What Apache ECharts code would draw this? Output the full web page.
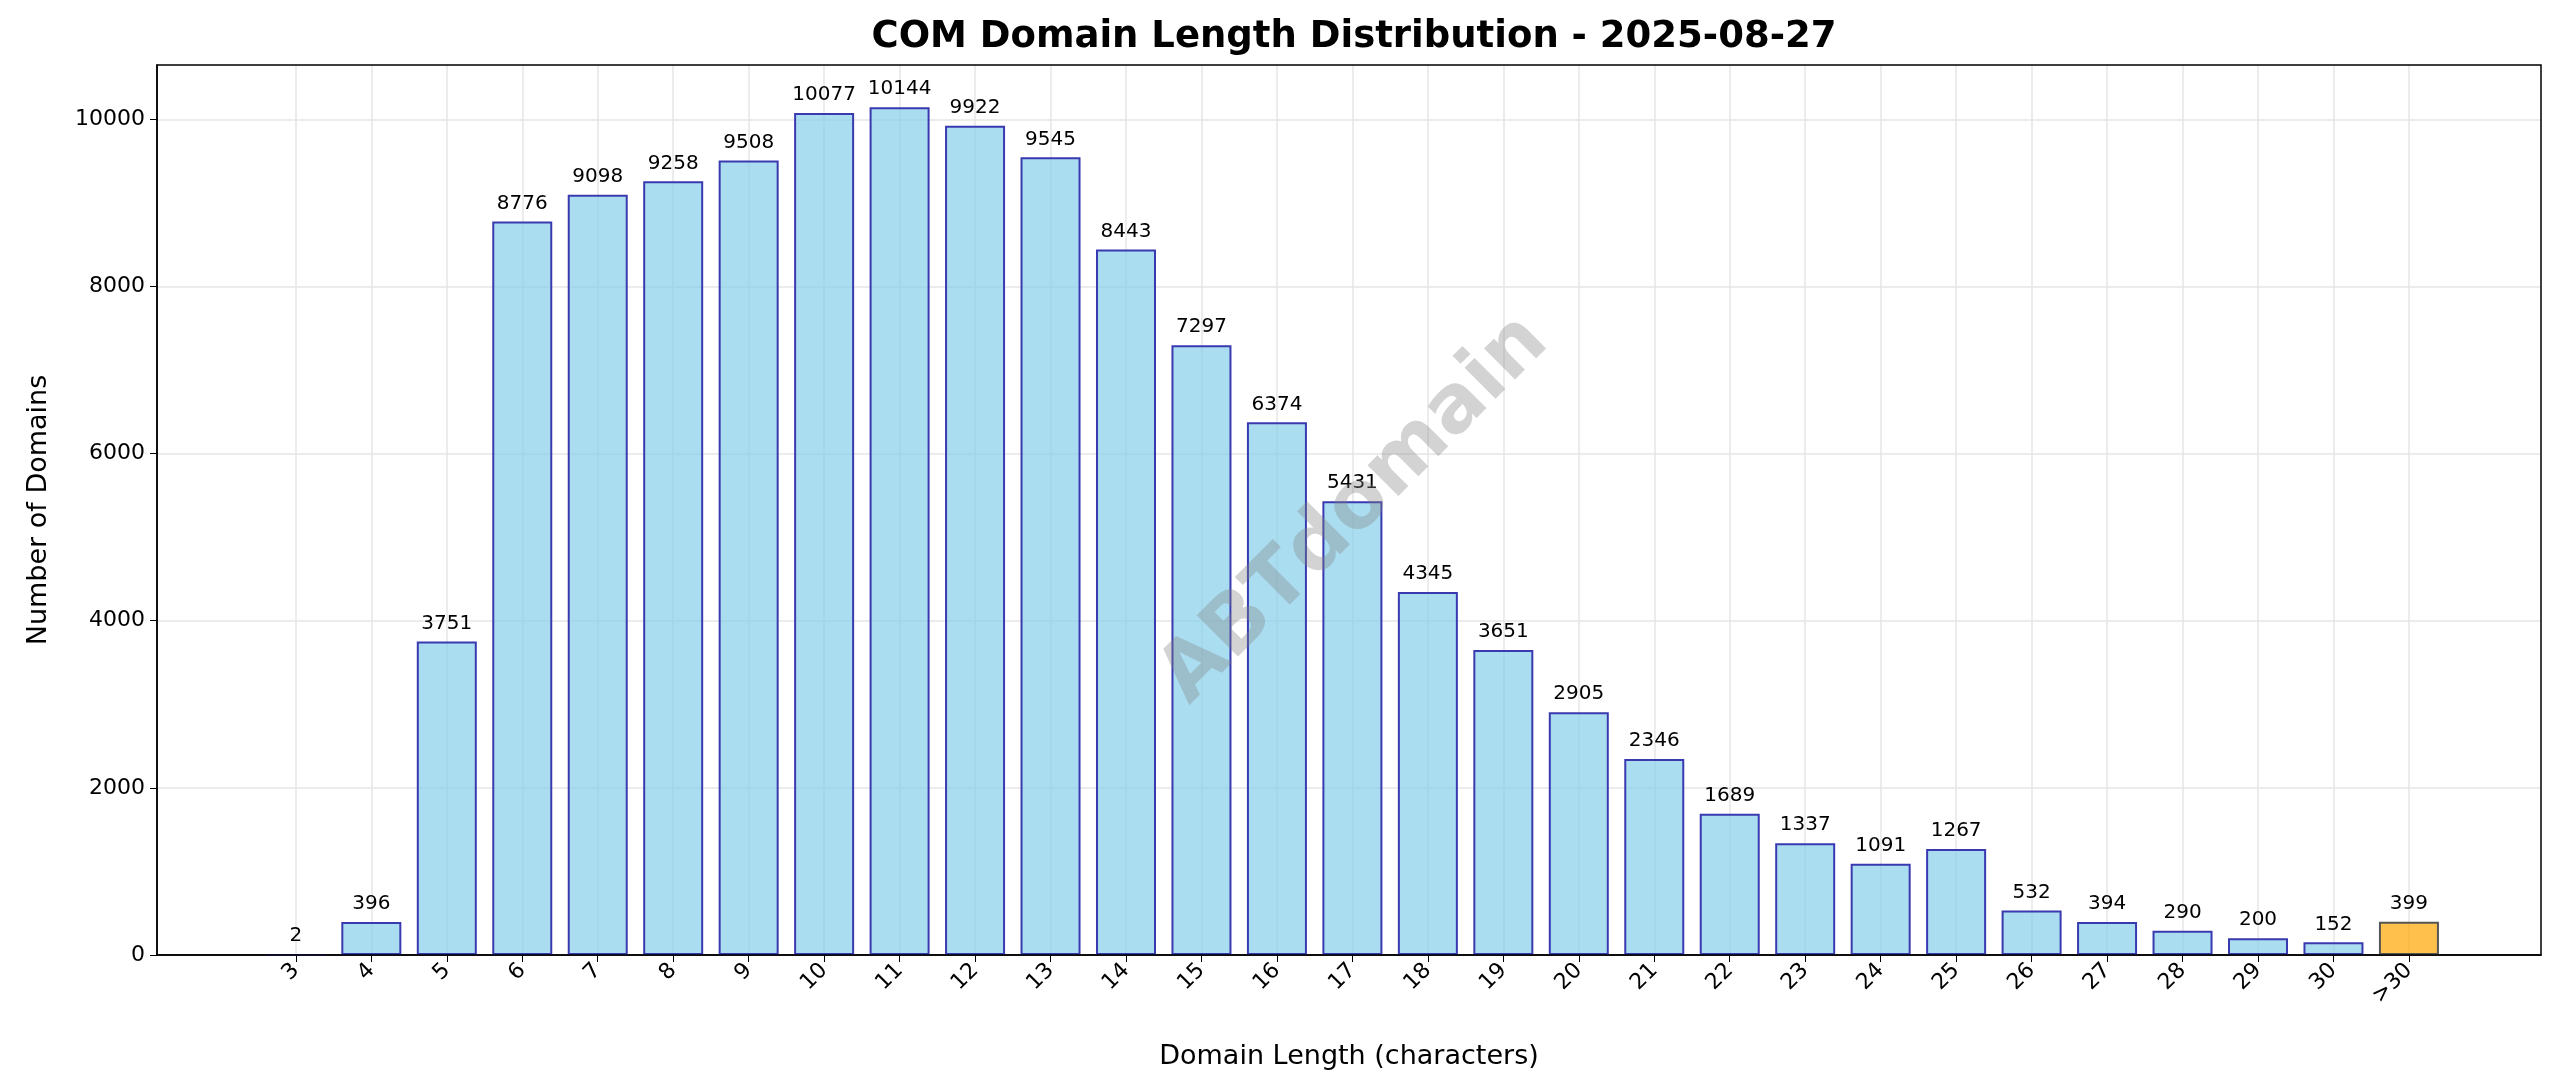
<!DOCTYPE html>
<html>
<head>
<meta charset="utf-8">
<script src="https://cdn.jsdelivr.net/npm/echarts@6/dist/echarts.min.js"></script>
<style>html,body{margin:0;background:#fff}#main{width:2560px;height:1087px}</style>
</head>
<body>
<div id="main"></div>
<script>
const lengths = ['3','4','5','6','7','8','9','10','11','12','13','14','15','16','17','18','19','20','21','22','23','24','25','26','27','28','29','30','>30'];
const counts = [2,396,3751,8776,9098,9258,9508,10077,10144,9922,9545,8443,7297,6374,5431,4345,3651,2905,2346,1689,1337,1091,1267,532,394,290,200,152,399];
const yTicks = [0,2000,4000,6000,8000,10000];

var myChart = echarts.init(document.getElementById('main'));
const idx = lengths.map((_, i) => i);

var option = {
    animation: false,
    textStyle: {fontFamily: 'DejaVu Sans'},
    title: {
        text: 'COM Domain Length Distribution - 2025-08-27',
        left: 1349, top: 14, textAlign: 'center',
        textStyle: {fontSize: 37, fontWeight: 'bold', color: '#000', fontFamily: 'DejaVu Sans'}
    },
    grid: {left: 157, right: 19, top: 65, bottom: 132, containLabel: false},
    xAxis: {
        type: 'value', min: -1.84, max: 29.75,
        name: 'Domain Length (characters)', nameLocation: 'middle', nameGap: 88,
        nameTextStyle: {fontSize: 27, color: '#000'},
        axisLine: {show: true, onZero: false, lineStyle: {color: '#000', width: 1.5}},
        axisTick: {show: true, customValues: idx, length: 7, lineStyle: {color: '#000'}},
        axisLabel: {customValues: idx, rotate: 45, fontSize: 22, color: '#000', margin: 12,
            formatter: v => lengths[Math.round(v)]},
        splitLine: {show: true, customValues: idx, lineStyle: {color: '#e6e6e6', width: 1.5}}
    },
    yAxis: {
        type: 'value', min: 0, max: 10650,
        name: 'Number of Domains', nameLocation: 'middle', nameGap: 105,
        nameTextStyle: {fontSize: 27, color: '#000'},
        axisLine: {show: true, onZero: false, lineStyle: {color: '#000', width: 1.5}},
        axisTick: {show: true, customValues: yTicks, length: 7, lineStyle: {color: '#000'}},
        axisLabel: {customValues: yTicks, fontSize: 22, color: '#000', margin: 12, formatter: v => String(v)},
        splitLine: {show: true, customValues: yTicks, lineStyle: {color: '#e6e6e6', width: 1.5}}
    },
    series: [{
        type: 'bar',
        barWidth: 60,
        data: counts.map((c, i) => ({
            value: [i, c],
            itemStyle: i === counts.length - 1
                ? {color: 'rgba(255,165,0,0.7)', borderColor: '#555', borderWidth: 2}
                : {color: 'rgba(135,206,235,0.7)', borderColor: '#3a3ab0', borderWidth: 2}
        })),
        label: {show: true, position: 'top', distance: 8, fontSize: 20, color: '#000',
            formatter: p => p.value[1]}
    }],
    graphic: [{
        type: 'text', x: 1355, y: 510, rotation: Math.PI / 4,
        style: {text: 'ABTdomain', font: 'bold 80px "DejaVu Sans"', fill: 'rgba(128,128,128,0.35)',
            textAlign: 'center', textVerticalAlign: 'middle'},
        z: 100
    }, {
        type: 'rect', shape: {x: 157, y: 65, width: 2384, height: 890},
        style: {fill: 'none', stroke: '#000', lineWidth: 1.5}, z: 90
    }]
};
myChart.setOption(option);
window.addEventListener('resize', myChart.resize);
</script>
</body>
</html>
